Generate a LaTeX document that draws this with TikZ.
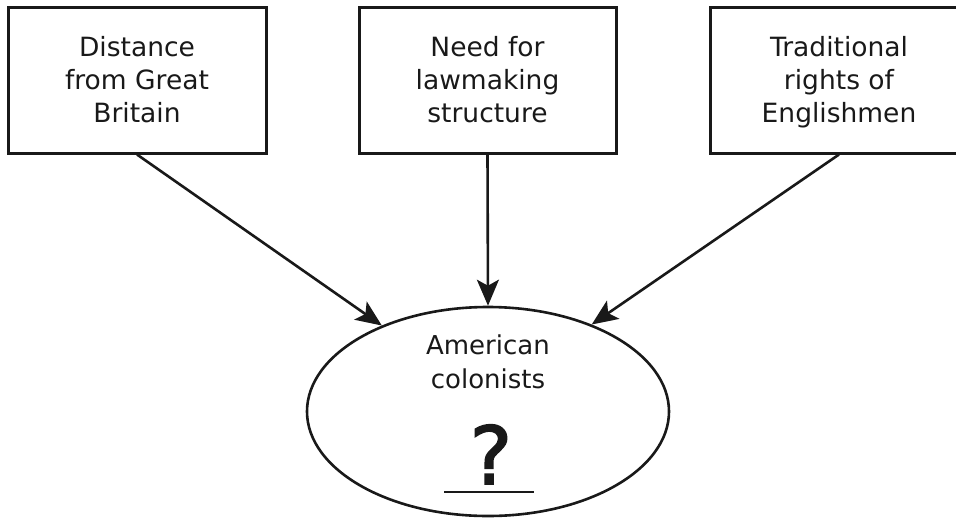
\documentclass[tikz,border=0pt]{standalone}
\usepackage{fontspec}
\setmainfont{DejaVu Sans}
\newfontfamily\qmarkfont[FakeBold=2]{DejaVu Sans}
\usetikzlibrary{arrows.meta,shapes.geometric}
\newcommand{\firststrut}{\rule{0pt}{29pt}}
\begin{document}
\begin{tikzpicture}[x=1pt,y=-1pt,
  factorbox/.style={draw=black!90, line width=3pt, minimum width=258pt, minimum height=146pt,
    align=center, inner sep=0pt, text=black!90, font=\fontsize{26.5}{33}\selectfont},
  conn/.style={draw=black!90, line width=2.6pt, -{Stealth[length=26pt,width=22pt,inset=6pt]}},
  outcome/.style={draw=black!90, ellipse, line width=2.6pt, minimum width=362pt, minimum height=209pt, inner sep=0pt}]
\useasboundingbox (0,0) rectangle (956,517);
\node[factorbox] (b1) at (137,80) {\firststrut Distance\\\strut from Great\\\strut Britain};
\node[factorbox, minimum width=257pt] (b2) at (487.5,80) {\firststrut Need for\\\strut lawmaking\\\strut structure};
\node[factorbox] (b3) at (839,80) {\firststrut Traditional\\\strut rights of\\\strut Englishmen};
\node[outcome] (ell) at (488,411.5) {};
\node[align=center, text=black!90, font=\fontsize{26}{34}\selectfont] (lab) at (488,362) {American\\colonists};
\node[text=black!90, font=\qmarkfont\fontsize{80}{80}\selectfont, inner sep=0pt, anchor=base] (q) at (491,484) {?};
\coordinate (ul1) at (444,492);
\coordinate (ul2) at (534,492);
\draw[line width=2.6pt, draw=black!90] (ul1) -- (ul2);
\draw[conn] (b1.south) -- (ell.141);
\draw[conn] (b2.south) -- (ell.north);
\draw[conn] (b3.south) -- (ell.40);
\end{tikzpicture}
\end{document}
